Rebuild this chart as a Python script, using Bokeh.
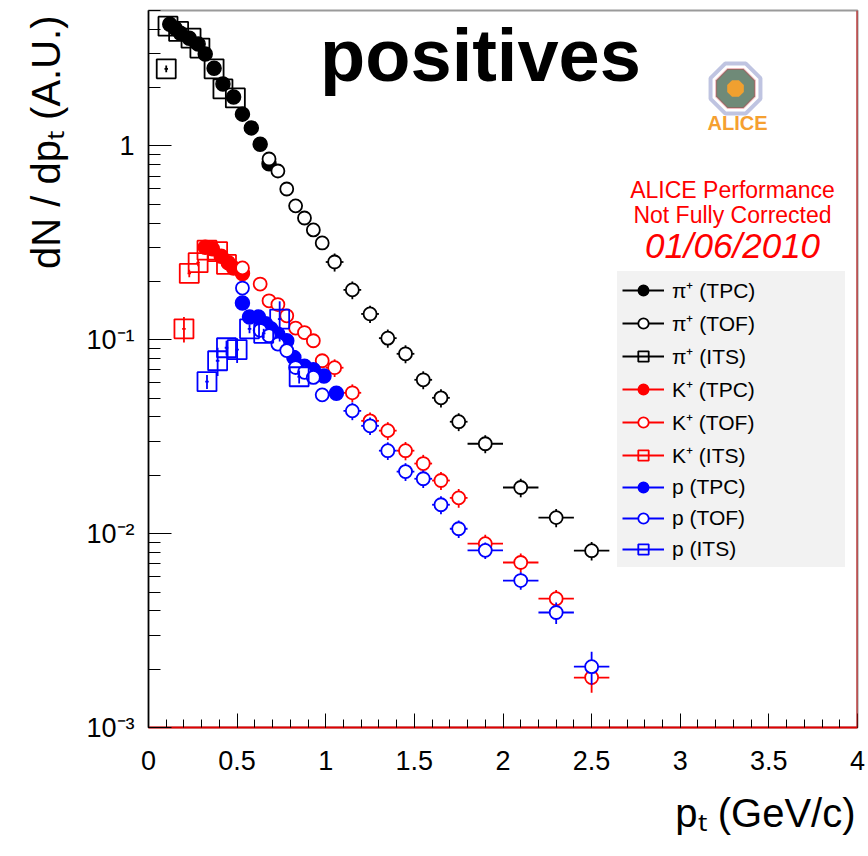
import math
from bokeh.plotting import figure
from bokeh.models import (Range1d, SingleIntervalTicker, LogTicker, CustomJSTickFormatter,
                          Legend, LegendItem, Label, Span, PolyAnnotation, ColumnDataSource, Title)
from bokeh.embed import file_html
from bokeh.resources import INLINE

# ---------------- data ----------------
pi_tpc_x = [0.12, 0.15, 0.18, 0.23, 0.28, 0.32, 0.37, 0.42, 0.48, 0.53, 0.58, 0.63, 0.68]
pi_tpc_y = [4.25, 4.05, 3.82, 3.6, 3.36, 2.98, 2.52, 2.09, 1.79, 1.46, 1.24, 1.02, 0.81]
pi_tpc_xe = [0.025, 0.025, 0.025, 0.025, 0.025, 0.025, 0.025, 0.025, 0.025, 0.025, 0.025, 0.025, 0.025]
pi_tpc_ye = [0.05, 0.05, 0.05, 0.04, 0.04, 0.03, 0.03, 0.03, 0.02, 0.02, 0.02, 0.02, 0.02]

pi_tof_x = [0.68, 0.73, 0.78, 0.83, 0.88, 0.93, 0.98, 1.05, 1.15, 1.25, 1.35, 1.45, 1.55,
            1.65, 1.75, 1.9, 2.1, 2.3, 2.5]
pi_tof_y = [0.857, 0.743, 0.600, 0.491, 0.425, 0.369, 0.316, 0.252, 0.181, 0.136, 0.102, 0.0847,
            0.0622, 0.0502, 0.0378, 0.0291, 0.0173, 0.0121, 0.00817]
pi_tof_xe = [0.025, 0.025, 0.025, 0.025, 0.025, 0.025, 0.025, 0.05, 0.05, 0.05, 0.05, 0.05, 0.05,
             0.05, 0.05, 0.1, 0.1, 0.1, 0.1]
pi_tof_ye = [0.02, 0.02, 0.015, 0.012, 0.01, 0.009, 0.008, 0.027, 0.019, 0.014, 0.011, 0.009,
             0.0066, 0.0054, 0.004, 0.0031, 0.0019, 0.0013, 0.0009]

pi_its_x = [0.10, 0.11, 0.17, 0.24, 0.29, 0.37, 0.42, 0.49]
pi_its_y = [2.5, 4.15, 3.9, 3.6, 3.2, 2.5, 1.97, 1.77]
pi_its_xe = [0.01, 0.01, 0.01, 0.01, 0.01, 0.01, 0.01, 0.01]
pi_its_ye = [0.1, 0.1, 0.1, 0.1, 0.08, 0.06, 0.05, 0.05]

k_tpc_x = [0.32, 0.36, 0.41, 0.45, 0.48, 0.53]
k_tpc_y = [0.30, 0.295, 0.27, 0.25, 0.235, 0.22]
k_tpc_xe = [0.025, 0.025, 0.025, 0.025, 0.025, 0.025]
k_tpc_ye = [0.006, 0.006, 0.005, 0.005, 0.005, 0.005]

k_tof_x = [0.53, 0.63, 0.68, 0.73, 0.78, 0.83, 0.88, 0.93, 0.98, 1.05, 1.15, 1.25, 1.35, 1.45,
           1.55, 1.65, 1.75, 1.9, 2.1, 2.3, 2.5]
k_tof_y = [0.235, 0.194, 0.159, 0.152, 0.133, 0.115, 0.109, 0.0989, 0.078, 0.0718, 0.0533,
           0.0382, 0.034, 0.0268, 0.0230, 0.0188, 0.0153, 0.00888, 0.0071, 0.00462, 0.00181]
k_tof_xe = [0.025, 0.025, 0.025, 0.025, 0.025, 0.025, 0.025, 0.025, 0.025, 0.05, 0.05, 0.05, 0.05,
            0.05, 0.05, 0.05, 0.05, 0.1, 0.1, 0.1, 0.1]
k_tof_ye = [0.006, 0.005, 0.004, 0.004, 0.004, 0.003, 0.003, 0.003, 0.003, 0.0075, 0.0056,
            0.004, 0.0036, 0.0029, 0.0025, 0.002, 0.0017, 0.001, 0.0008, 0.0005, 0.0003]

k_its_x = [0.20, 0.23, 0.28, 0.33, 0.39, 0.44]
k_its_y = [0.114, 0.22, 0.25, 0.29, 0.285, 0.245]
k_its_xe = [0.01, 0.01, 0.01, 0.01, 0.01, 0.01]
k_its_ye = [0.017, 0.01, 0.01, 0.01, 0.01, 0.01]

p_tpc_x = [0.53, 0.57, 0.62, 0.66, 0.69, 0.73, 0.78, 0.82, 0.88, 0.93, 0.99, 1.06]
p_tpc_y = [0.155, 0.131, 0.131, 0.121, 0.114, 0.107, 0.099, 0.081, 0.073, 0.070, 0.065, 0.053]
p_tpc_xe = [0.025, 0.025, 0.025, 0.025, 0.025, 0.025, 0.025, 0.025, 0.025, 0.025, 0.025, 0.025]
p_tpc_ye = [0.004, 0.003, 0.003, 0.003, 0.003, 0.003, 0.003, 0.002, 0.002, 0.002, 0.002, 0.002]

p_tof_x = [0.53, 0.63, 0.68, 0.73, 0.78, 0.83, 0.88, 0.93, 0.98, 1.15, 1.25, 1.35, 1.45, 1.55,
           1.65, 1.75, 1.9, 2.1, 2.3, 2.5]
p_tof_y = [0.185, 0.112, 0.105, 0.095, 0.088, 0.072, 0.068, 0.064, 0.052, 0.043, 0.036, 0.0268,
           0.0209, 0.0192, 0.0141, 0.0106, 0.0082, 0.00573, 0.00392, 0.00206]
p_tof_xe = [0.025, 0.025, 0.025, 0.025, 0.025, 0.025, 0.025, 0.025, 0.025, 0.05, 0.05, 0.05,
            0.05, 0.05, 0.05, 0.05, 0.1, 0.1, 0.1, 0.1]
p_tof_ye = [0.005, 0.004, 0.004, 0.003, 0.003, 0.003, 0.003, 0.003, 0.002, 0.0045, 0.0037,
            0.0028, 0.0022, 0.002, 0.0015, 0.0011, 0.0008, 0.0006, 0.0005, 0.0004]

p_its_x = [0.33, 0.39, 0.44, 0.50, 0.57, 0.65, 0.74, 0.85]
p_its_y = [0.0608, 0.078, 0.091, 0.089, 0.114, 0.108, 0.128, 0.0645]
p_its_xe = [0.01, 0.01, 0.01, 0.01, 0.01, 0.01, 0.01, 0.01]
p_its_ye = [0.005, 0.013, 0.008, 0.013, 0.006, 0.006, 0.03, 0.005]

x_ticks_major = 0.5
FONT = "Liberation Sans"

# ---------------- figure ----------------
p = figure(width=868, height=856, y_axis_type="log",
           x_range=Range1d(0, 4), y_range=Range1d(1e-3, 5),
           output_backend="svg", toolbar_location=None,
           min_border_left=148, min_border_right=11, min_border_top=10, min_border_bottom=129)
p.grid.visible = False
p.background_fill_color = "white"
p.border_fill_color = "white"
p.outline_line_color = "#9a9a9a"
p.outline_line_width = 2

xa = p.xaxis[0]
xa.ticker = SingleIntervalTicker(interval=x_ticks_major, num_minor_ticks=5)
xa.formatter = CustomJSTickFormatter(code="return String(Math.round(tick*10)/10);")
xa.major_tick_in = 14
xa.major_tick_out = 0
xa.minor_tick_in = 8
xa.minor_tick_out = 0
xa.axis_line_color = "#e00000"
xa.axis_line_width = 2
xa.major_tick_line_color = "black"
xa.minor_tick_line_color = "black"
xa.major_label_text_font = FONT
xa.major_label_text_font_size = "27px"
xa.major_label_text_color = "black"
xa.major_label_standoff = 23

ya = p.yaxis[0]
ya.ticker = LogTicker(num_minor_ticks=10)
ya.formatter = CustomJSTickFormatter(code="""
const e = Math.round(Math.log10(tick));
if (e === 0) return "1";
const sup = {"-": "\u207b", "0": "\u2070", "1": "\u00b9", "2": "\u00b2", "3": "\u00b3", "4": "\u2074"};
return "10" + String(e).split("").map(c => sup[c]).join("");
""")
ya.major_tick_in = 23
ya.major_tick_out = 0
ya.minor_tick_in = 12
ya.minor_tick_out = 0
ya.axis_line_color = "black"
ya.axis_line_width = 1.5
ya.major_label_text_font = FONT
ya.major_label_text_font_size = "27px"
ya.major_label_text_color = "black"
ya.major_label_standoff = 14

# axis titles as right-aligned titles in the side panels
p.add_layout(Title(text="p\u209c (GeV/c)", align="right", text_font=FONT,
                   text_font_size="40px", text_font_style="normal", text_color="black",
                   standoff=33, offset=2), "below")
p.add_layout(Title(text="dN / dp\u209c (A.U.)", align="right", vertical_align="top",
                   text_font=FONT, text_font_size="40px", text_font_style="normal",
                   text_color="black", standoff=27, offset=5), "left")

p.add_layout(Span(location=4, dimension="height", line_color="#cc1111", line_width=2))


def draw(x, y, xe, ye, color, kind):
    src = ColumnDataSource(dict(
        x=x, y=y,
        x0=[a - b for a, b in zip(x, xe)], x1=[a + b for a, b in zip(x, xe)],
        y0=[max(a - b, 1e-6) for a, b in zip(y, ye)], y1=[a + b for a, b in zip(y, ye)]))
    hseg = p.segment(x0="x0", y0="y", x1="x1", y1="y", source=src, line_color=color, line_width=1.8)
    p.segment(x0="x", y0="y0", x1="x", y1="y1", source=src, line_color=color, line_width=1.8)
    if kind == "tpc":
        sc = p.scatter("x", "y", source=src, marker="circle", size=14,
                       fill_color=color, line_color=color, line_width=1.5)
    elif kind == "tof":
        sc = p.scatter("x", "y", source=src, marker="circle", size=13,
                       fill_color="white", line_color=color, line_width=1.8)
    else:
        sc = p.scatter("x", "y", source=src, marker="square", size=19,
                       fill_alpha=0, line_color=color, line_width=1.8)
    return [hseg, sc]


series = [
    ("\u03c0\u207a (TPC)", pi_tpc_x, pi_tpc_y, pi_tpc_xe, pi_tpc_ye, "black", "tpc"),
    ("\u03c0\u207a (TOF)", pi_tof_x, pi_tof_y, pi_tof_xe, pi_tof_ye, "black", "tof"),
    ("\u03c0\u207a (ITS)", pi_its_x, pi_its_y, pi_its_xe, pi_its_ye, "black", "its"),
    ("K\u207a (TPC)", k_tpc_x, k_tpc_y, k_tpc_xe, k_tpc_ye, "#ff0000", "tpc"),
    ("K\u207a (TOF)", k_tof_x, k_tof_y, k_tof_xe, k_tof_ye, "#ff0000", "tof"),
    ("K\u207a (ITS)", k_its_x, k_its_y, k_its_xe, k_its_ye, "#ff0000", "its"),
    ("p (TPC)", p_tpc_x, p_tpc_y, p_tpc_xe, p_tpc_ye, "#0000ff", "tpc"),
    ("p (TOF)", p_tof_x, p_tof_y, p_tof_xe, p_tof_ye, "#0000ff", "tof"),
    ("p (ITS)", p_its_x, p_its_y, p_its_xe, p_its_ye, "#0000ff", "its"),
]

items = []
for name, x, y, xe, ye, color, kind in series:
    rs = draw(x, y, xe, ye, color, kind)
    items.append(LegendItem(label=name, renderers=rs))

legend = Legend(items=items, location=(469, 160),
                label_text_font=FONT, label_text_font_size="21px", label_text_color="black",
                label_standoff=8, glyph_width=42, glyph_height=26, spacing=5, padding=5,
                margin=0, label_width=168,
                border_line_alpha=0, background_fill_color="#f2f2f2", background_fill_alpha=1)
p.add_layout(legend, "center")


def lab(text, x, y, size, color="black", style="normal", align="left",
        baseline="alphabetic", angle=0.0):
    p.add_layout(Label(x=x, y=y, x_units="screen", y_units="screen", text=text,
                       text_font=FONT, text_font_size=f"{size}px", text_color=color,
                       text_font_style=style, text_align=align, text_baseline=baseline,
                       angle=angle))


# frame-relative coordinates (frame left = 148, bottom = 727)
lab("positives", 332, 672, 74, style="bold", align="center")
lab("ALICE Performance", 584, 538, 23, color="#ff0000", align="center")
lab("Not Fully Corrected", 584, 513, 23, color="#ff0000", align="center")
lab("01/06/2010", 584, 482, 35, color="#ff0000", style="italic", align="center")

# ALICE logo (decoration)
def octagon(cx, cy, r):
    xs, ys = [], []
    for i in range(8):
        a = math.pi / 8 + i * math.pi / 4
        xs.append(cx + r * math.cos(a))
        ys.append(cy + r * math.sin(a))
    return xs, ys

ox, oy = octagon(587, 639, 27)
p.add_layout(PolyAnnotation(xs=ox, ys=oy, xs_units="screen", ys_units="screen",
                            fill_alpha=0, line_color="#2a3a9a", line_width=4))
ox, oy = octagon(587, 639, 21)
p.add_layout(PolyAnnotation(xs=ox, ys=oy, xs_units="screen", ys_units="screen",
                            fill_color="#6f8a78", fill_alpha=1, line_color="#cc2233", line_width=2))
ox, oy = octagon(587, 639, 9)
p.add_layout(PolyAnnotation(xs=ox, ys=oy, xs_units="screen", ys_units="screen",
                            fill_color="#f0a030", fill_alpha=1, line_alpha=0))
lab("ALICE", 589, 605, 20, color="#f5a030", style="bold", align="center")

open("out.html", "w").write(file_html(p, INLINE))
